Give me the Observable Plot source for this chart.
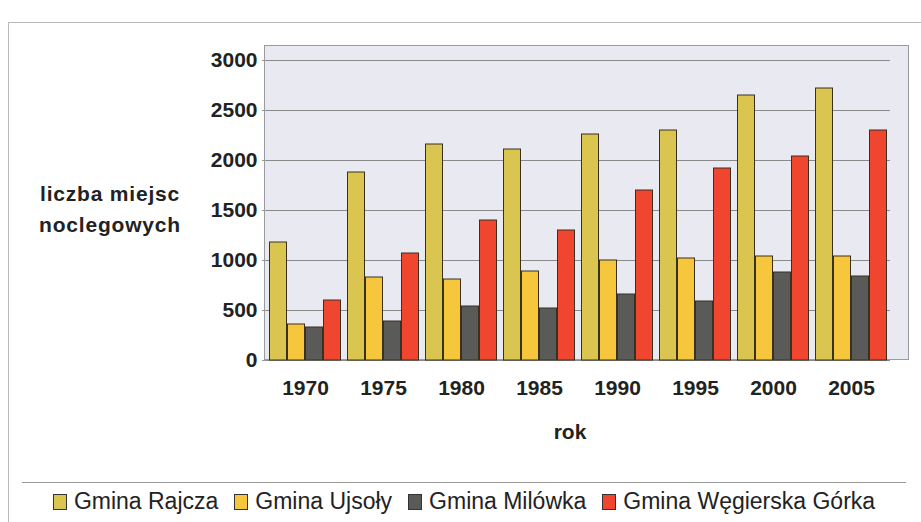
<!DOCTYPE html>
<html>
<head>
<meta charset="utf-8">
<script src="https://cdn.jsdelivr.net/npm/d3@7"></script>
<script src="https://cdn.jsdelivr.net/npm/@observablehq/plot@0.6"></script>
<style>
  body { margin: 0; background: #fff; font-family: "Liberation Sans", Arial, sans-serif; }
  #wrap { position: relative; width: 921px; height: 522px; overflow: hidden; }
  #frame { position: absolute; left: 8px; top: 22px; width: 940px; height: 600px; border: 1px solid #b8b8b8; }
  #wall { position: absolute; left: 264px; top: 45px; width: 645px; height: 315px; background: #e9e9f1; border: 1px solid #9a9aa2; box-sizing: border-box; }
  #chart { position: absolute; left: 0; top: 0; }
  #ytitle { position: absolute; left: 15px; top: 178px; width: 190px; text-align: center;
            font-weight: bold; font-size: 21px; line-height: 31px; color: #222; letter-spacing: 0.8px; }
  #xtitle { position: absolute; left: 530px; top: 420px; width: 80px; text-align: center;
            font-weight: bold; font-size: 21px; color: #222; }
  #legend { position: absolute; left: 22px; top: 482px; width: 884px; height: 36px;
            border-top: 1px solid #999; display: flex; align-items: center; justify-content: center;
            font-size: 23px; color: #222; gap: 16px; }
  .sw { display: inline-block; width: 12px; height: 14px; border: 1px solid #333; margin-right: 7px; vertical-align: -1px; }
</style>
</head>
<body>
<div id="wrap">
  <div id="frame"></div>
  <div id="wall"></div>
  <div id="chart"></div>
  <div id="ytitle">liczba miejsc<br>noclegowych</div>
  <div id="xtitle">rok</div>
  <div id="legend"></div>
</div>
<script>
const years = ["1970", "1975", "1980", "1985", "1990", "1995", "2000", "2005"];
const series = ["Gmina Rajcza", "Gmina Ujsoły", "Gmina Milówka", "Gmina Węgierska Górka"];
const colors = ["#d9c550", "#f6c63c", "#5a5a58", "#f0452e"];
const rajcza    = [1180, 1880, 2160, 2110, 2260, 2300, 2650, 2720];
const ujsoly    = [360, 830, 810, 890, 1000, 1020, 1040, 1040];
const milowka   = [330, 390, 540, 520, 660, 590, 880, 840];
const wegierska = [600, 1070, 1400, 1300, 1700, 1920, 2040, 2300];
const yTicks = [0, 500, 1000, 1500, 2000, 2500, 3000];

const valuesBySeries = [rajcza, ujsoly, milowka, wegierska];
const data = [];
years.forEach((yr, i) => {
  series.forEach((s, j) => data.push({year: yr, series: s, value: valuesBySeries[j][i]}));
});

const chart = Plot.plot({
  width: 921,
  height: 460,
  marginLeft: 264,
  marginRight: 30,
  marginTop: 60,
  marginBottom: 100,
  style: {fontFamily: "Liberation Sans, Arial, sans-serif", background: "transparent"},
  fx: {domain: years, padding: 0, label: null, axis: null},
  x: {domain: series, axis: null, paddingInner: 0, paddingOuter: 0.14},
  y: {domain: [0, 3000], ticks: yTicks, label: null, grid: false},
  color: {domain: series, range: colors},
  marks: [
    Plot.ruleY(yTicks, {stroke: "#8a8a8a", strokeWidth: 1}),
    Plot.barY(data, {fx: "year", x: "series", y: "value", fill: "series", stroke: "#3a3020", strokeWidth: 1, insetLeft: 0.5, insetRight: 0.5}),
    Plot.axisY({ticks: yTicks, tickSize: 4, tickPadding: 5, fontSize: 21, fontWeight: "bold", fill: "#222", stroke: "#999", tickFormat: d => String(d)}),
    Plot.axisFx({anchor: "bottom", tickSize: 0, tickPadding: 20, fontSize: 21, fontWeight: "bold", fill: "#222", label: null})
  ]
});
document.getElementById("chart").appendChild(chart);

const leg = document.getElementById("legend");
series.forEach((s, j) => {
  const item = document.createElement("span");
  item.innerHTML = `<span class="sw" style="background:${colors[j]}"></span>${s}`;
  leg.appendChild(item);
});
</script>
</body>
</html>
